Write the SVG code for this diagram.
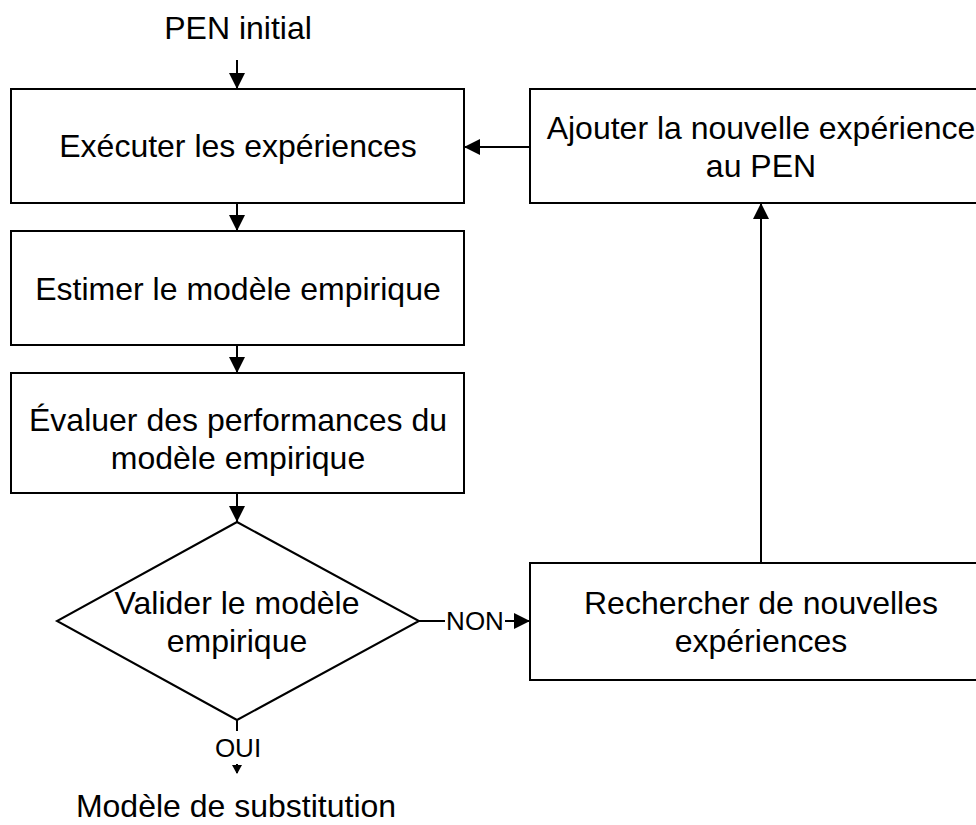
<svg xmlns="http://www.w3.org/2000/svg" width="976" height="825" viewBox="0 0 976 825">
<defs>
<style>
.box{fill:#fff;stroke:#000;stroke-width:2}
.ln{fill:none;stroke:#000;stroke-width:2}
text{font-family:"Liberation Sans",Arial,sans-serif;font-size:32px;fill:#000;text-anchor:middle}
.sm{font-size:26px}
</style>
<marker id="ah" markerWidth="16" markerHeight="16" refX="16" refY="8" orient="auto" markerUnits="userSpaceOnUse">
<path d="M0,0 L16,8 L0,16 Z" fill="#000"/>
</marker>
<marker id="ahs" markerWidth="9" markerHeight="10" refX="8" refY="5" orient="auto" markerUnits="userSpaceOnUse">
<path d="M0,0 L9,5 L0,10 Z" fill="#000"/>
</marker>
</defs>
<rect width="976" height="825" fill="#fff"/>
<text x="238" y="39">PEN initial</text>
<g id="n1"><rect class="box" x="11" y="89" width="453" height="114"/><text x="238" y="157">Exécuter les expériences</text></g>
<g id="n2"><rect class="box" x="11" y="231" width="453" height="114"/><text x="238" y="300">Estimer le modèle empirique</text></g>
<g id="n3"><rect class="box" x="11" y="373" width="453" height="120"/><text x="238" y="431">Évaluer des performances du</text><text x="238" y="469">modèle empirique</text></g>
<g id="n4"><polygon class="box" points="237,522 419,621 237,720 57,621"/><text x="237" y="614">Valider le modèle</text><text x="237" y="652">empirique</text></g>
<g id="n5"><rect class="box" x="530" y="563" width="462" height="117"/><text x="761" y="614">Rechercher de nouvelles</text><text x="761" y="652">expériences</text></g>
<g id="n6"><rect class="box" x="530" y="89" width="462" height="114"/><text x="761" y="139">Ajouter la nouvelle expérience</text><text x="761" y="177">au PEN</text></g>
<text x="236" y="817">Modèle de substitution</text>
<g id="connectors">
<line class="ln" x1="237" y1="60" x2="237" y2="89" marker-end="url(#ah)"/>
<line class="ln" x1="237" y1="203" x2="237" y2="231" marker-end="url(#ah)"/>
<line class="ln" x1="237" y1="345" x2="237" y2="373" marker-end="url(#ah)"/>
<line class="ln" x1="237" y1="493" x2="237" y2="522" marker-end="url(#ah)"/>
<line class="ln" x1="530" y1="147" x2="464" y2="147" marker-end="url(#ah)"/>
<line class="ln" x1="761" y1="563" x2="761" y2="203" marker-end="url(#ah)"/>
<line class="ln" x1="419" y1="621" x2="445" y2="621"/>
<text class="sm" x="475" y="630">NON</text>
<line class="ln" x1="505" y1="621" x2="530" y2="621" marker-end="url(#ah)"/>
<line class="ln" x1="237" y1="720" x2="237" y2="731"/>
<text class="sm" x="238" y="757">OUI</text>
<line class="ln" x1="237" y1="764" x2="237" y2="773" marker-end="url(#ahs)"/>
</g>
</svg>
